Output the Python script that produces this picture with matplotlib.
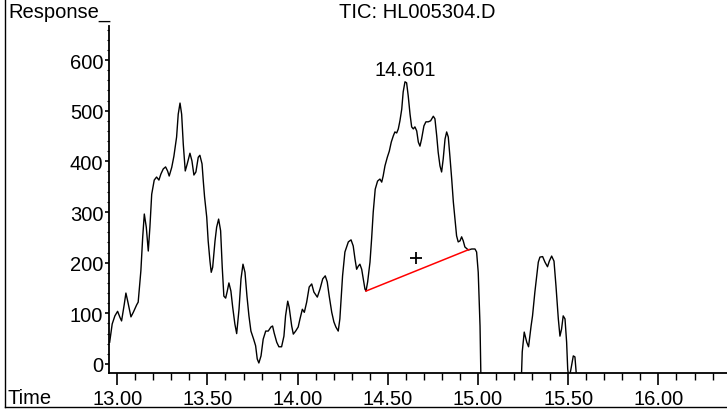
import matplotlib
matplotlib.use("Agg")
import matplotlib.pyplot as plt
from matplotlib.lines import Line2D
from matplotlib.ticker import MultipleLocator

plt.rcParams['font.family'] = ['Liberation Sans', 'DejaVu Sans']

# TIC trace (time in min, abundance)
time = [12.958, 12.972, 12.987, 13.002, 13.015, 13.024, 13.039, 13.048, 13.058, 13.076,
        13.089, 13.108, 13.116, 13.131, 13.141, 13.150, 13.161, 13.172, 13.181, 13.191,
        13.205, 13.218, 13.231, 13.242, 13.255, 13.268, 13.279, 13.288, 13.302, 13.314,
        13.329, 13.338, 13.348, 13.357, 13.366, 13.377, 13.388, 13.403, 13.414, 13.425,
        13.436, 13.449, 13.458, 13.470, 13.477, 13.484, 13.496, 13.504, 13.514, 13.521,
        13.529, 13.542, 13.551, 13.562, 13.573, 13.582, 13.591, 13.601, 13.610, 13.619,
        13.630, 13.640, 13.652, 13.662, 13.675, 13.686, 13.697, 13.708, 13.719, 13.730,
        13.741, 13.756, 13.767, 13.776, 13.785, 13.797, 13.809, 13.823, 13.837, 13.852,
        13.861, 13.870, 13.884, 13.896, 13.911, 13.924, 13.933, 13.945, 13.953, 13.967,
        13.976, 13.989, 14.003, 14.013, 14.026, 14.037, 14.050, 14.064, 14.078, 14.090,
        14.109, 14.124, 14.139, 14.153, 14.164, 14.175, 14.189, 14.201, 14.212, 14.225,
        14.234, 14.249, 14.262, 14.281, 14.296, 14.308, 14.318, 14.327, 14.336, 14.345,
        14.355, 14.364, 14.373, 14.379, 14.388, 14.401, 14.410, 14.419, 14.430, 14.443,
        14.456, 14.466, 14.474, 14.484, 14.497, 14.508, 14.519, 14.530, 14.539, 14.549,
        14.558, 14.567, 14.577, 14.585, 14.595, 14.604, 14.613, 14.623, 14.632, 14.641,
        14.650, 14.660, 14.669, 14.678, 14.687, 14.700, 14.711, 14.724, 14.737, 14.752,
        14.761, 14.771, 14.779, 14.789, 14.798, 14.807, 14.817, 14.826, 14.835, 14.844,
        14.854, 14.863, 14.872, 14.881, 14.890, 14.900, 14.909, 14.918, 14.927, 14.946,
        14.965, 14.983, 14.992, 15.001, 15.011, 15.016, 15.100, 15.240, 15.245, 15.256,
        15.270, 15.280, 15.294, 15.302, 15.315, 15.325, 15.334, 15.343, 15.358, 15.371,
        15.385, 15.395, 15.408, 15.421, 15.432, 15.445, 15.454, 15.463, 15.472, 15.482,
        15.491, 15.497, 15.504, 15.515, 15.528, 15.537, 15.547, 15.600, 16.400]
response = [43, 79, 95, 104, 92, 85, 118, 140, 124, 93,
            102, 117, 122, 184, 250, 296, 270, 223, 270, 335,
            363, 369, 363, 375, 385, 389, 381, 371, 388, 410,
            448, 493, 515, 493, 434, 381, 395, 416, 401, 373,
            379, 408, 412, 395, 361, 330, 290, 243, 203, 181,
            191, 243, 270, 286, 263, 191, 134, 130, 144, 160,
            144, 112, 79, 60, 108, 168, 197, 181, 134, 95,
            65, 49, 36, 10, 2, 16, 49, 65, 65, 73,
            75, 61, 43, 34, 34, 55, 95, 124, 112, 75,
            59, 65, 73, 89, 108, 102, 122, 152, 158, 142,
            132, 148, 168, 174, 162, 134, 102, 83, 73, 65,
            89, 174, 221, 241, 245, 233, 207, 187, 193, 197,
            187, 168, 148, 144, 162, 201, 247, 300, 345, 361,
            365, 359, 371, 391, 408, 420, 438, 450, 458, 456,
            464, 480, 503, 537, 557, 555, 529, 493, 468, 464,
            468, 460, 438, 430, 444, 470, 478, 478, 480, 489,
            484, 450, 418, 391, 379, 405, 444, 458, 448, 410,
            365, 320, 286, 253, 241, 243, 251, 243, 231, 225,
            227, 227, 221, 181, 75, -30, -60, -30, 24, 63,
            43, 34, 75, 95, 142, 174, 201, 211, 212, 201,
            192, 203, 213, 203, 154, 89, 55, 69, 95, 89,
            43, -10, -30, -10, 16, 14, -30, -60, -60]

# integration baseline and peak label
base_time = [14.379, 14.950]
base_resp = [144, 226]
peak_label = "14.601"
peak_time = 14.595
peak_resp = 557
center_time = 14.656
center_resp = 209

fig = plt.figure(figsize=(7.27, 4.10), dpi=100)
ax = fig.add_axes([0.1506, 0.089, 0.8494, 0.845])

ax.plot(time, response, color='black', linewidth=1.0)
ax.plot(base_time, base_resp, color='red', linewidth=1.1)
ax.plot([center_time], [center_resp], marker='+', color='black', markersize=8, mew=1.3)
ax.text(peak_time, peak_resp + 5, peak_label, ha='center', va='bottom', fontsize=14.5)

ax.set_xlim(12.957, 16.38)
ax.set_ylim(-16.8, 667)

ax.spines['top'].set_visible(False)
ax.spines['right'].set_visible(False)
ax.spines['left'].set_linewidth(1.3)
ax.spines['bottom'].set_linewidth(1.3)

ax.xaxis.set_major_locator(MultipleLocator(0.5))
ax.xaxis.set_minor_locator(MultipleLocator(0.1))
ax.yaxis.set_major_locator(MultipleLocator(100))
ax.yaxis.set_minor_locator(MultipleLocator(20))
ax.xaxis.set_major_formatter(plt.FormatStrFormatter('%.2f'))
ax.yaxis.set_major_formatter(plt.FormatStrFormatter('%d'))

ax.tick_params(axis='x', which='major', length=8.5, width=1.2, pad=3.5, labelsize=14.5)
ax.tick_params(axis='x', which='minor', length=5, width=1.0)
ax.tick_params(axis='y', which='major', length=3, width=1.2, pad=1.5, labelsize=14.5)
ax.tick_params(axis='y', which='minor', length=1.5, width=0.8)

fig.text(0.011, 0.97, "Response_", fontsize=14.5, ha='left', va='center')
fig.text(0.011, 0.029, "Time", fontsize=14.5, ha='left', va='center')
fig.text(0.574, 0.97, "TIC: HL005304.D", fontsize=14.5, ha='center', va='center')

# frame lines on left and bottom of the sheet
fig.add_artist(Line2D([0.007, 0.007], [0.005, 1.0], color='black', linewidth=1.0))
fig.add_artist(Line2D([0.007, 1.0], [0.005, 0.005], color='black', linewidth=1.0))

fig.savefig('out.png', dpi=100)
